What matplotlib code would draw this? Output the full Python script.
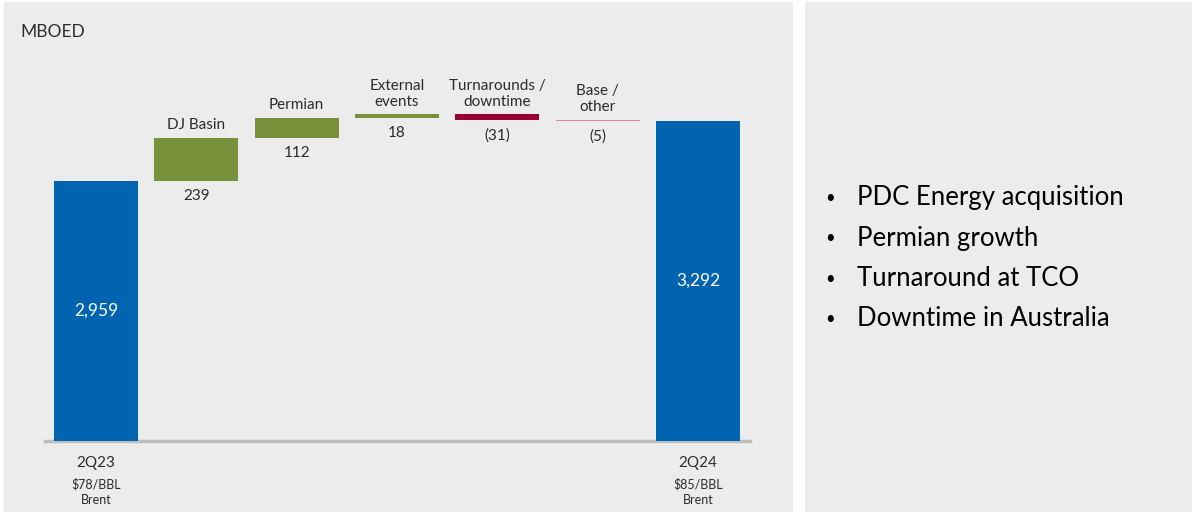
import matplotlib.pyplot as plt
from matplotlib.patches import Rectangle

plt.rcParams['font.family'] = ['Lato', 'DejaVu Sans']

# production bridge, thousand barrels of oil equivalent per day
start_label = "2Q23"
start_sub = "$78/BBL\nBrent"
start_value = 2959
end_label = "2Q24"
end_sub = "$85/BBL\nBrent"
end_value = 3292

steps = ["DJ Basin", "Permian", "External\nevents", "Turnarounds /\ndowntime", "Base /\nother"]
deltas = [239, 112, 18, -31, -5]
step_colors = ["#77923a", "#77923a", "#77923a", "#990033", "#d9879e"]

bullets = ["PDC Energy acquisition", "Permian growth", "Turnaround at TCO", "Downtime in Australia"]

BLUE = "#0064b0"
PANEL = "#ececec"
TEXT = "#2b2b2b"


def fmt_delta(v):
    return f"({abs(v)})" if v < 0 else f"{v}"


W, H = 1192, 512
fig = plt.figure(figsize=(W / 100, H / 100), dpi=100)
fig.patch.set_facecolor("white")

# two grey panels, kept behind the chart axes
fig.patches.append(Rectangle((4 / W, 0), 789 / W, 510 / H, transform=fig.transFigure,
                             facecolor=PANEL, edgecolor="none", zorder=-5))
fig.patches.append(Rectangle((805 / W, 0), 387 / W, 510 / H, transform=fig.transFigure,
                             facecolor=PANEL, edgecolor="none", zorder=-5))

fig.text(20 / W, 1 - 32 / H, "MBOED", fontsize=12.5, color=TEXT, va="center", ha="left")

ax = fig.add_axes([45 / W, (H - 441) / H, 705 / W, 401 / H])
ax.set_facecolor("none")
ax.set_xlim(-0.508, 6.518)
ax.set_ylim(1516, 3741)
for s in ["top", "right", "left"]:
    ax.spines[s].set_visible(False)
ax.spines["bottom"].set_color("#bdbdbd")
ax.spines["bottom"].set_linewidth(2.5)
ax.set_xticks([])
ax.set_yticks([])

bw = 0.837
base = ax.get_ylim()[0]

# totals
ax.bar(0, start_value - base, bottom=base, width=bw, color=BLUE, zorder=3)
ax.bar(len(steps) + 1, end_value - base, bottom=base, width=bw, color=BLUE, zorder=3)
ax.text(0, (start_value + base) / 2, f"{start_value:,}", color="white", fontsize=12.5,
        ha="center", va="center", zorder=4)
ax.text(len(steps) + 1, (end_value + base) / 2, f"{end_value:,}", color="white", fontsize=12.5,
        ha="center", va="center", zorder=4)

# floating steps
level = start_value
for i, (name, d, c) in enumerate(zip(steps, deltas, step_colors), start=1):
    lo, hi = min(level, level + d), max(level, level + d)
    ax.bar(i, hi - lo, bottom=lo, width=bw, color=c, zorder=3)
    ax.annotate(name, (i, hi), xytext=(0, 4), textcoords="offset points",
                ha="center", va="bottom", fontsize=11, color=TEXT, linespacing=1.2)
    ax.annotate(fmt_delta(d), (i, lo), xytext=(0, -6), textcoords="offset points",
                ha="center", va="top", fontsize=11, color=TEXT)
    level += d

# period labels under the axis
for x, lab, sub in [(0, start_label, start_sub), (len(steps) + 1, end_label, end_sub)]:
    ax.annotate(lab, (x, base), xytext=(0, -11), textcoords="offset points",
                ha="center", va="top", fontsize=11, color=TEXT)
    ax.annotate(sub, (x, base), xytext=(0, -27), textcoords="offset points",
                ha="center", va="top", fontsize=9, color=TEXT, linespacing=1.3)

# notes on the right
for k, b in enumerate(bullets):
    y = 1 - (198 + 40.3 * k) / H
    fig.text(830 / W, y, "\u2022", fontsize=12, color="black", ha="center", va="center")
    fig.text(857 / W, y, b, fontsize=18.5, color="black", ha="left", va="center")

fig.savefig("out.png", dpi=100, facecolor=fig.get_facecolor())
